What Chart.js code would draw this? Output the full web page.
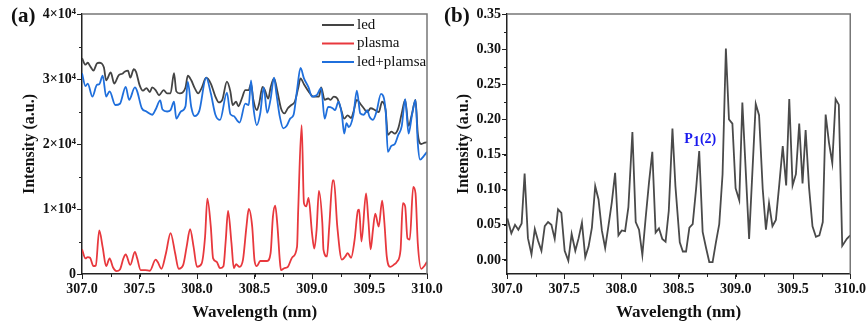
<!DOCTYPE html>
<html>
<head>
<meta charset="utf-8">
<script src="https://cdn.jsdelivr.net/npm/chart.js@4.4.1/dist/chart.umd.min.js"></script>
<style>
  body { margin: 0; background: #fff; }
  #wrap { position: relative; width: 868px; height: 329px; overflow: hidden; }
  canvas { position: absolute; top: 0; }
  .panel { position: absolute; top: 3px; font: bold 21px 'Liberation Serif', serif; color: #111; }
</style>
</head>
<body>
<div id="wrap">
  <canvas id="chartA" width="460" height="329" style="left:0"></canvas>
  <canvas id="chartB" width="434" height="329" style="left:434px"></canvas>
  <div class="panel" style="left:11px">(a)</div>
  <div class="panel" style="left:444px">(b)</div>
</div>
<script>
// (a) spectra
var ledWl = [307.00, 307.03, 307.05, 307.07, 307.10, 307.13, 307.15, 307.19, 307.21, 307.25, 307.28, 307.32, 307.35, 307.37, 307.40, 307.42, 307.45, 307.47, 307.50, 307.53, 307.56, 307.59, 307.61, 307.64, 307.67, 307.71, 307.74, 307.77, 307.80, 307.82, 307.85, 307.90, 307.92, 307.95, 307.98, 308.01, 308.04, 308.08, 308.12, 308.16, 308.19, 308.22, 308.26, 308.29, 308.31, 308.34, 308.36, 308.39, 308.42, 308.45, 308.47, 308.49, 308.52, 308.54, 308.57, 308.59, 308.62, 308.64, 308.67, 308.70, 308.73, 308.76, 308.79, 308.82, 308.85, 308.88, 308.90, 308.93, 308.97, 309.01, 309.06, 309.08, 309.11, 309.14, 309.16, 309.19, 309.22, 309.25, 309.28, 309.31, 309.34, 309.36, 309.39, 309.42, 309.45, 309.48, 309.51, 309.55, 309.58, 309.61, 309.64, 309.66, 309.69, 309.72, 309.75, 309.78, 309.81, 309.84, 309.87, 309.90, 309.92, 309.95, 309.98, 310.00];
var led = [33200, 32200, 32500, 32000, 31300, 32400, 32500, 31800, 29800, 31000, 29300, 30600, 30800, 31100, 31300, 30200, 31500, 31100, 29100, 28200, 28600, 28000, 28700, 28300, 27500, 28300, 27800, 27800, 30900, 28100, 27800, 28700, 30500, 29800, 28600, 27800, 28600, 30200, 29300, 27300, 26400, 26800, 29600, 28100, 26000, 26500, 25800, 27000, 28300, 28300, 29300, 26800, 25200, 26200, 28800, 28300, 27000, 28700, 30100, 28000, 25500, 24700, 25500, 26000, 26500, 28600, 30100, 29200, 28100, 27300, 27300, 28700, 26800, 27000, 26800, 27300, 27000, 25500, 23900, 24400, 24000, 24900, 26800, 26200, 25500, 24900, 25500, 25200, 24900, 26500, 25200, 21400, 21900, 21600, 22400, 24700, 26800, 22800, 24700, 26800, 21600, 20000, 20200, 20300];

var plasmaWl = [307.00, 307.03, 307.05, 307.07, 307.10, 307.12, 307.15, 307.18, 307.21, 307.24, 307.27, 307.30, 307.33, 307.36, 307.38, 307.42, 307.46, 307.48, 307.51, 307.55, 307.59, 307.64, 307.66, 307.69, 307.73, 307.77, 307.81, 307.84, 307.88, 307.91, 307.94, 307.97, 308.00, 308.04, 308.07, 308.09, 308.12, 308.14, 308.17, 308.20, 308.23, 308.25, 308.27, 308.30, 308.32, 308.34, 308.37, 308.40, 308.43, 308.45, 308.48, 308.50, 308.52, 308.55, 308.61, 308.64, 308.66, 308.68, 308.70, 308.72, 308.73, 308.76, 308.79, 308.83, 308.87, 308.88, 308.91, 308.93, 308.95, 308.97, 309.00, 309.02, 309.04, 309.06, 309.09, 309.10, 309.13, 309.15, 309.18, 309.19, 309.22, 309.26, 309.29, 309.31, 309.34, 309.37, 309.40, 309.41, 309.43, 309.47, 309.49, 309.51, 309.53, 309.55, 309.58, 309.61, 309.63, 309.65, 309.68, 309.71, 309.74, 309.77, 309.79, 309.81, 309.83, 309.85, 309.88, 309.90, 309.92, 309.95, 309.98, 310.00];
var plasma = [3800, 2400, 2600, 2500, 1200, 1300, 6700, 4100, 1200, 2400, 1000, 450, 700, 2400, 3000, 1400, 3400, 2400, 600, 600, 500, 2200, 1800, 800, 3200, 6300, 3200, 800, 1400, 4200, 6900, 4200, 1100, 1600, 5700, 11600, 7300, 2400, 1900, 900, 1200, 5200, 9700, 4700, 900, 1500, 1100, 2200, 7300, 10000, 7300, 2100, 1200, 2000, 2000, 3200, 8800, 10500, 7300, 2100, 600, 900, 1100, 2600, 4200, 9800, 22900, 10900, 10400, 11700, 6300, 3900, 6800, 12800, 7800, 3700, 2700, 7300, 14400, 14400, 7300, 2200, 2700, 3200, 2500, 5200, 9800, 9900, 5000, 12400, 8300, 3800, 6800, 9300, 7300, 11300, 7800, 2700, 1100, 1400, 1900, 3700, 10900, 10400, 5500, 5300, 13400, 12400, 4700, 800, 1300, 1900];

var mixWl = [307.00, 307.03, 307.05, 307.09, 307.13, 307.15, 307.18, 307.21, 307.24, 307.29, 307.33, 307.38, 307.41, 307.46, 307.48, 307.52, 307.56, 307.61, 307.64, 307.68, 307.70, 307.74, 307.77, 307.80, 307.82, 307.86, 307.90, 307.92, 307.95, 307.98, 308.02, 308.08, 308.12, 308.16, 308.20, 308.26, 308.29, 308.32, 308.35, 308.37, 308.42, 308.45, 308.47, 308.49, 308.52, 308.55, 308.58, 308.61, 308.64, 308.67, 308.69, 308.72, 308.75, 308.78, 308.81, 308.84, 308.87, 308.90, 308.93, 308.97, 309.00, 309.04, 309.08, 309.11, 309.14, 309.18, 309.20, 309.23, 309.26, 309.28, 309.30, 309.32, 309.36, 309.39, 309.42, 309.45, 309.48, 309.50, 309.53, 309.56, 309.60, 309.64, 309.66, 309.69, 309.72, 309.75, 309.78, 309.81, 309.84, 309.87, 309.90, 309.92, 309.94, 309.97, 310.00];
var mix = [30900, 28900, 29300, 27300, 29100, 29200, 30500, 27300, 28100, 26000, 26200, 28800, 26800, 28700, 28100, 25500, 25000, 24500, 25300, 26700, 25300, 25000, 25200, 26500, 23900, 25000, 25800, 29600, 25700, 24300, 25100, 30200, 27800, 24500, 23700, 27900, 24600, 24300, 23600, 23300, 26200, 26000, 29800, 25700, 22900, 24700, 28700, 24800, 26900, 30200, 27800, 24200, 22400, 22800, 23900, 24500, 28300, 31700, 30100, 28700, 27300, 27500, 28600, 23900, 25700, 25500, 25200, 26500, 24500, 21600, 23200, 22600, 24500, 28200, 24700, 24500, 25200, 24200, 23700, 24900, 27700, 25200, 18800, 19700, 20000, 21400, 22700, 26900, 21600, 24500, 26800, 20100, 17600, 18100, 18800];

// (b) ratio
var ratioWl = [307.003, 307.038, 307.070, 307.099, 307.128, 307.154, 307.183, 307.214, 307.243, 307.272, 307.301, 307.330, 307.359, 307.388, 307.417, 307.446, 307.475, 307.504, 307.536, 307.565, 307.597, 307.626, 307.655, 307.684, 307.713, 307.742, 307.771, 307.800, 307.829, 307.858, 307.887, 307.916, 307.945, 307.974, 308.003, 308.032, 308.061, 308.096, 308.125, 308.154, 308.183, 308.212, 308.241, 308.270, 308.299, 308.328, 308.357, 308.386, 308.414, 308.446, 308.472, 308.510, 308.537, 308.565, 308.594, 308.623, 308.652, 308.680, 308.710, 308.740, 308.768, 308.797, 308.826, 308.855, 308.884, 308.913, 308.940, 308.970, 308.998, 309.030, 309.057, 309.116, 309.174, 309.203, 309.235, 309.263, 309.290, 309.320, 309.350, 309.380, 309.410, 309.440, 309.467, 309.496, 309.525, 309.554, 309.583, 309.610, 309.640, 309.670, 309.700, 309.730, 309.760, 309.785, 309.814, 309.843, 309.872, 309.900, 309.930, 309.970, 310.000];
var ratio = [0.059, 0.038, 0.050, 0.043, 0.052, 0.123, 0.031, 0.008, 0.044, 0.027, 0.013, 0.048, 0.054, 0.050, 0.030, 0.072, 0.067, 0.013, -0.001, 0.037, 0.013, 0.031, 0.053, 0.004, 0.019, 0.046, 0.105, 0.086, 0.042, 0.017, 0.049, 0.082, 0.124, 0.035, 0.042, 0.041, 0.075, 0.182, 0.054, 0.043, 0.007, 0.060, 0.110, 0.154, 0.039, 0.045, 0.030, 0.026, 0.070, 0.187, 0.105, 0.025, 0.012, 0.012, 0.046, 0.051, 0.100, 0.155, 0.040, 0.017, -0.003, -0.003, 0.025, 0.051, 0.122, 0.301, 0.200, 0.194, 0.102, 0.085, 0.224, 0.030, 0.222, 0.206, 0.101, 0.043, 0.081, 0.048, 0.057, 0.108, 0.162, 0.106, 0.229, 0.106, 0.122, 0.194, 0.109, 0.185, 0.103, 0.048, 0.033, 0.035, 0.054, 0.207, 0.167, 0.138, 0.229, 0.221, 0.020, 0.030, 0.035];

var xTicks = [307.0, 307.5, 308.0, 308.5, 309.0, 309.5, 310.0];
var peakLabel = { main: 'P', sub: '1', rest: '(2)', x: 308.55, y: 0.167 };

var serif = "'Liberation Serif', 'Times New Roman', serif";
var ink = '#111';

function pts(xs, ys) {
    var out = [];
    for (var i = 0; i < xs.length; i++) out.push({ x: xs[i], y: ys[i] });
    return out;
}

// top/right frame plus the short minor ticks
function framePlugin(xMinor, yMinor) {
    return {
        id: 'frame',
        afterDraw: function (chart) {
            var ctx = chart.ctx, a = chart.chartArea;
            var xs = chart.scales.x, ys = chart.scales.y;
            ctx.save();
            ctx.strokeStyle = '#777';
            ctx.lineWidth = 1.5;
            ctx.beginPath();
            ctx.moveTo(a.left, a.top);
            ctx.lineTo(a.right, a.top);
            ctx.lineTo(a.right, a.bottom);
            ctx.stroke();
            ctx.strokeStyle = '#222';
            ctx.lineWidth = 1;
            ctx.beginPath();
            for (var v = Math.ceil(xs.min / xMinor - 1e-9) * xMinor; v <= xs.max + 1e-9; v += xMinor) {
                var px = Math.round(xs.getPixelForValue(v)) + 0.5;
                ctx.moveTo(px, a.bottom);
                ctx.lineTo(px, a.bottom + 3);
            }
            for (var w = Math.ceil(ys.min / yMinor - 1e-9) * yMinor; w <= ys.max + 1e-9; w += yMinor) {
                var py = Math.round(ys.getPixelForValue(w)) + 0.5;
                ctx.moveTo(a.left, py);
                ctx.lineTo(a.left - 3, py);
            }
            ctx.stroke();
            ctx.restore();
        }
    };
}

var lineLegend = {
    id: 'lineLegend',
    afterDraw: function (chart) {
        var ctx = chart.ctx, a = chart.chartArea;
        ctx.save();
        ctx.font = '15px ' + serif;
        ctx.textBaseline = 'middle';
        chart.data.datasets.forEach(function (ds, i) {
            var y = a.top + 11 + i * 18.5;
            var x0 = a.right - 105;
            ctx.strokeStyle = ds.borderColor;
            ctx.lineWidth = 2;
            ctx.beginPath();
            ctx.moveTo(x0, y);
            ctx.lineTo(x0 + 32, y);
            ctx.stroke();
            ctx.fillStyle = ink;
            ctx.fillText(ds.label, x0 + 35, y);
        });
        ctx.restore();
    }
};

var peakText = {
    id: 'peakText',
    afterDraw: function (chart) {
        var ctx = chart.ctx;
        var x = chart.scales.x.getPixelForValue(peakLabel.x);
        var y = chart.scales.y.getPixelForValue(peakLabel.y);
        ctx.save();
        ctx.fillStyle = '#1a1aee';
        ctx.font = 'bold 14px ' + serif;
        ctx.textBaseline = 'alphabetic';
        ctx.fillText(peakLabel.main, x, y);
        x += ctx.measureText(peakLabel.main).width;
        ctx.fillText(peakLabel.sub, x, y + 3);
        x += ctx.measureText(peakLabel.sub).width;
        ctx.fillText(peakLabel.rest, x, y);
        ctx.restore();
    }
};

function xAxis() {
    return {
        type: 'linear',
        min: 307, max: 310,
        afterFit: function (s) { s.height = 55; },
        afterBuildTicks: function (s) { s.ticks = xTicks.map(function (v) { return { value: v }; }); },
        grid: { drawOnChartArea: false, tickLength: 5, tickColor: '#222' },
        border: { color: '#222', width: 1.5 },
        ticks: {
            padding: 2, maxRotation: 0, autoSkip: false, color: ink,
            font: { family: serif, weight: 'bold', size: 14 },
            callback: function (v) { return v.toFixed(1); }
        },
        title: {
            display: true, text: 'Wavelength (nm)', color: ink,
            font: { family: serif, weight: 'bold', size: 17 },
            padding: { top: 0, bottom: 6 }
        }
    };
}

function yTitle() {
    return {
        display: true, text: 'Intensity (a.u.)', color: ink,
        font: { family: serif, weight: 'bold', size: 16 },
        padding: { top: 20, bottom: 0 }
    };
}

new Chart(document.getElementById('chartA'), {
    type: 'line',
    data: {
        datasets: [
            { label: 'led', data: pts(ledWl, led), borderColor: '#444444', order: 1 },
            { label: 'plasma', data: pts(plasmaWl, plasma), borderColor: '#e8383d', order: 2 },
            { label: 'led+plamsa', data: pts(mixWl, mix), borderColor: '#1f6fdc', order: 0 }
        ]
    },
    options: {
        responsive: false,
        animation: false,
        layout: { padding: { top: 14, right: 33, left: 0, bottom: 0 } },
        elements: {
            point: { radius: 0 },
            line: { borderWidth: 1.8, cubicInterpolationMode: 'monotone' }
        },
        plugins: { legend: { display: false }, tooltip: { enabled: false } },
        scales: {
            x: xAxis(),
            y: {
                min: 0, max: 40000,
                afterFit: function (s) { s.width = 82; },
                grid: { drawOnChartArea: false, tickLength: 5, tickColor: '#222' },
                border: { color: '#222', width: 1.5 },
                ticks: {
                    stepSize: 10000, padding: 1, color: ink,
                    font: { family: serif, weight: 'bold', size: 14 },
                    callback: function (v) { return v === 0 ? '0' : (v / 10000) + '×10⁴'; }
                },
                title: yTitle()
            }
        }
    },
    plugins: [framePlugin(0.25, 5000), lineLegend]
});

new Chart(document.getElementById('chartB'), {
    type: 'line',
    data: {
        datasets: [
            { label: 'ratio', data: pts(ratioWl, ratio), borderColor: '#4a4a4a', borderWidth: 1.8, tension: 0 }
        ]
    },
    options: {
        responsive: false,
        animation: false,
        layout: { padding: { top: 14, right: 16, left: 0, bottom: 0 } },
        elements: { point: { radius: 0 } },
        plugins: { legend: { display: false }, tooltip: { enabled: false } },
        scales: {
            x: xAxis(),
            y: {
                min: -0.02, max: 0.35,
                afterFit: function (s) { s.width = 73; },
                grid: { drawOnChartArea: false, tickLength: 5, tickColor: '#222' },
                border: { color: '#222', width: 1.5 },
                ticks: {
                    stepSize: 0.05, includeBounds: false, padding: 1, color: ink,
                    font: { family: serif, weight: 'bold', size: 14 },
                    callback: function (v) { return v.toFixed(2); }
                },
                title: yTitle()
            }
        }
    },
    plugins: [framePlugin(0.25, 0.025), peakText]
});
</script>
</body>
</html>
